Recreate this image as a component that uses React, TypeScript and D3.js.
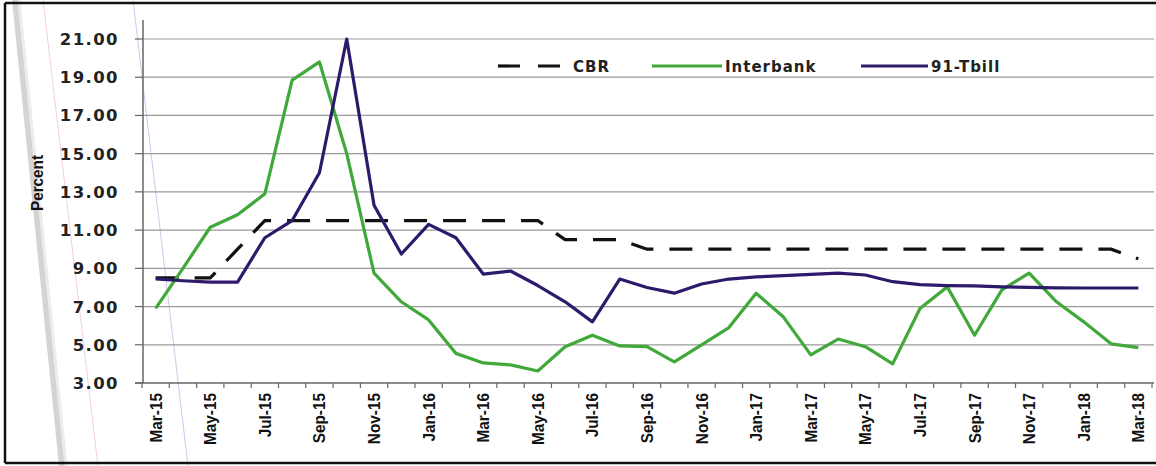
import React from "react";
import * as d3 from "d3";

const months = [
  "Mar-15","Apr-15","May-15","Jun-15","Jul-15","Aug-15","Sep-15","Oct-15","Nov-15","Dec-15",
  "Jan-16","Feb-16","Mar-16","Apr-16","May-16","Jun-16","Jul-16","Aug-16","Sep-16","Oct-16","Nov-16","Dec-16",
  "Jan-17","Feb-17","Mar-17","Apr-17","May-17","Jun-17","Jul-17","Aug-17","Sep-17","Oct-17","Nov-17","Dec-17",
  "Jan-18","Feb-18","Mar-18",
];

const cbr = [
  8.5, 8.5, 8.5, 10.0, 11.5, 11.5, 11.5, 11.5, 11.5, 11.5,
  11.5, 11.5, 11.5, 11.5, 11.5, 10.5, 10.5, 10.5, 10.0, 10.0, 10.0, 10.0,
  10.0, 10.0, 10.0, 10.0, 10.0, 10.0, 10.0, 10.0, 10.0, 10.0, 10.0, 10.0,
  10.0, 10.0, 9.5,
];

const interbank = [
  6.9, 9.0, 11.15, 11.8, 12.9, 18.85, 19.8, 15.0, 8.75, 7.25,
  6.3, 4.55, 4.05, 3.95, 3.63, 4.9, 5.5, 4.94, 4.9, 4.1, 5.0, 5.9,
  7.7, 6.45, 4.47, 5.3, 4.9, 4.0, 6.9, 8.03, 5.5, 7.87, 8.75, 7.25,
  6.2, 5.05, 4.85,
];

const tbill = [
  8.45, 8.35, 8.28, 8.28, 10.6, 11.5, 14.0, 21.0, 12.3, 9.75,
  11.3, 10.6, 8.7, 8.86, 8.1, 7.25, 6.2, 8.44, 8.0, 7.7, 8.18, 8.44,
  8.55, 8.62, 8.68, 8.75, 8.65, 8.3, 8.15, 8.1, 8.08, 8.03, 8.0, 7.98,
  7.97, 7.97, 7.97,
];

const yTicks = [3, 5, 7, 9, 11, 13, 15, 17, 19, 21];
const legendItems = ["CBR", "Interbank", "91-Tbill"];

const W = 1156;
const H = 466;
const GREEN = "#41a83a";
const PURPLE = "#2e1a6b";

export default function App() {
  const x = d3.scaleBand<string>().domain(months).range([142, 1152]).paddingInner(0).paddingOuter(0);
  const y = d3.scaleLinear().domain([3, 21]).range([383, 39]);
  const bw = x.bandwidth();
  const cx = (m: string) => (x(m) as number) + bw / 2;

  const line = d3
    .line<number>()
    .x((_, i) => cx(months[i]))
    .y((v) => y(v));

  const boundaries = months.map((m) => x(m) as number).concat([(x(months[months.length - 1]) as number) + bw]);
  const labelled = months.filter((_, i) => i % 2 === 0);
  const fmt = d3.format(".2f");

  const tickFont = "'DejaVu Sans', Verdana, sans-serif";
  const narrowFont = "'Liberation Sans', Arial, sans-serif";

  return (
    <svg
      width={W}
      height={H}
      style={{ position: "absolute", left: 0, top: 0, background: "#fff" }}
    >
      <rect x={0} y={0} width={W} height={H} fill="#ffffff" />
      {/* scan artefacts */}
      <line x1={15} y1={0} x2={62} y2={466} stroke="#d4d4d4" strokeWidth={6} />
      <line x1={19} y1={0} x2={66} y2={466} stroke="#ececec" strokeWidth={3} />
      <line x1={43} y1={0} x2={98} y2={466} stroke="#f2cfdc" strokeWidth={1} />
      <line x1={133} y1={0} x2={188} y2={466} stroke="#d2c6e8" strokeWidth={1} />

      {/* frame */}
      <line x1={5} y1={3} x2={W} y2={3} stroke="#111" strokeWidth={2.5} />
      <line x1={5} y1={3} x2={5} y2={463} stroke="#111" strokeWidth={2.5} />
      <line x1={5} y1={463} x2={W} y2={463} stroke="#111" strokeWidth={2.5} />

      {/* gridlines */}
      {yTicks.filter((t) => t > 3).map((t) => (
        <line key={"g" + t} x1={143} x2={1154} y1={y(t)} y2={y(t)} stroke="#9a9a9a" strokeWidth={1.2} />
      ))}

      {/* axes */}
      <line x1={143} x2={143} y1={20} y2={y(3)} stroke="#666" strokeWidth={1.5} />
      <line x1={135} x2={1154} y1={y(3)} y2={y(3)} stroke="#666" strokeWidth={1.5} />
      {yTicks.map((t) => (
        <line key={"yt" + t} x1={135} x2={143} y1={y(t)} y2={y(t)} stroke="#666" strokeWidth={1.2} />
      ))}
      {boundaries.map((b, i) => (
        <line key={"xt" + i} x1={b} x2={b} y1={y(3)} y2={y(3) + 5} stroke="#666" strokeWidth={1.2} />
      ))}

      {/* y tick labels */}
      {yTicks.map((t) => (
        <text
          key={"yl" + t}
          x={119}
          y={y(t) + 6}
          textAnchor="end"
          fontFamily={tickFont}
          fontWeight="bold"
          fontSize={16.5}
          letterSpacing={1.4}
          fill="#222"
        >
          {fmt(t)}
        </text>
      ))}

      {/* y axis title */}
      <text
        transform={`translate(43,183) rotate(-90) scale(0.9,1)`}
        textAnchor="middle"
        fontFamily={narrowFont}
        fontWeight="bold"
        fontSize={17}
        fill="#111"
      >
        Percent
      </text>

      {/* x tick labels */}
      {labelled.map((m) => (
        <text
          key={"xl" + m}
          transform={`translate(${cx(m) + 6},393) rotate(-90) scale(0.93,1)`}
          textAnchor="end"
          fontFamily={narrowFont}
          fontWeight="bold"
          fontSize={16.5}
          fill="#111"
        >
          {m}
        </text>
      ))}

      {/* series */}
      <path d={line(cbr) || ""} fill="none" stroke="#111" strokeWidth={3.2} strokeDasharray="23,16" />
      <path d={line(interbank) || ""} fill="none" stroke={GREEN} strokeWidth={3.2} strokeLinejoin="round" />
      <path d={line(tbill) || ""} fill="none" stroke={PURPLE} strokeWidth={3.2} strokeLinejoin="round" />

      {/* legend */}
      <g fontFamily={tickFont} fontWeight="bold" fontSize={15} fill="#222" letterSpacing={1}>
        <line x1={498} x2={561} y1={66} y2={66} stroke="#111" strokeWidth={3.2} strokeDasharray="22,18" />
        <text x={573} y={71.5}>{legendItems[0]}</text>
        <line x1={652} x2={722} y1={66} y2={66} stroke={GREEN} strokeWidth={3} />
        <text x={725} y={71.5}>{legendItems[1]}</text>
        <line x1={861} x2={928} y1={66} y2={66} stroke={PURPLE} strokeWidth={3} />
        <text x={931} y={71.5}>{legendItems[2]}</text>
      </g>
    </svg>
  );
}
